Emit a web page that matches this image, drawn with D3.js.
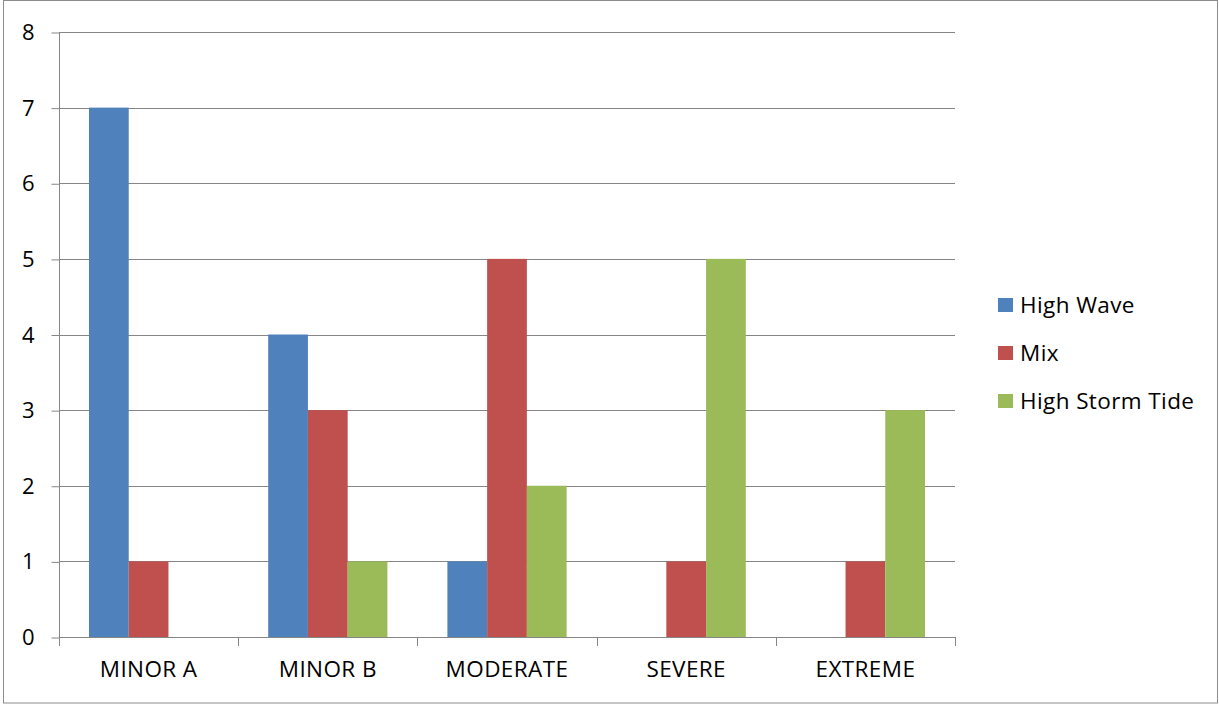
<!DOCTYPE html>
<html><head><meta charset="utf-8">
<script src="https://cdn.jsdelivr.net/npm/d3@7"></script>
<style>body{margin:0;background:#fff;}svg{display:block;font-family:"Open Sans",Arial,sans-serif;}</style>
</head><body>
<svg id="c" width="1219" height="704"></svg>
<script>
const categories = ["MINOR A","MINOR B","MODERATE","SEVERE","EXTREME"];
const seriesNames = ["High Wave","Mix","High Storm Tide"];
const highWave = [7,4,1,0,0];
const mix = [1,3,5,1,1];
const highStormTide = [0,1,2,5,3];
const yTicks = [0,1,2,3,4,5,6,7,8];
const colors = ["#4F81BD","#C0504D","#9BBB59"];
const seriesValues = [highWave, mix, highStormTide];

(function(){
const FONT = "'Open Sans', Arial, sans-serif";
const svg = d3.select("#c");
svg.append("rect").attr("x",3.5).attr("y",0.5).attr("width",1214).attr("height",702.5)
  .attr("fill","#fff").attr("stroke","#8c8c8c").attr("stroke-width",1);

const pL=59, pR=955, pT=32, pB=637;
const x = d3.scaleBand().domain(categories).range([pL,pR]).padding(0);
const y = d3.scaleLinear().domain([0,8]).range([pB,pT]);
const gap = 30;
const xs = d3.scaleBand().domain(seriesNames).range([gap, x.bandwidth()-gap]).padding(0);

// gridlines
svg.append("g").selectAll("line").data(yTicks.filter(d=>d>0)).join("line")
  .attr("x1",pL).attr("x2",pR)
  .attr("y1",d=>Math.round(y(d))+0.5).attr("y2",d=>Math.round(y(d))+0.5)
  .attr("stroke","#868686").attr("stroke-width",1);

// bars
seriesNames.forEach((s,i)=>{
  svg.append("g").selectAll("rect").data(categories.map((c,j)=>({c,v:seriesValues[i][j]}))).join("rect")
    .attr("x",d=>x(d.c)+xs(s))
    .attr("width",xs.bandwidth())
    .attr("y",d=>y(d.v))
    .attr("height",d=>y(0)-y(d.v))
    .attr("fill",colors[i]);
});

// y axis
const yAxis = d3.axisLeft(y).tickValues(yTicks).tickSize(8).tickPadding(17).tickFormat(d3.format("d"));
const gy = svg.append("g").attr("transform",`translate(${pL+0.5},0.5)`).call(yAxis);
gy.select(".domain").attr("stroke","#868686").attr("d",`M0,${pT}V${pB}`);
gy.selectAll(".tick line").attr("stroke","#868686");
gy.selectAll(".tick text").attr("font-size",22).attr("fill","#000").attr("font-family",FONT);

// x axis
const xAxis = d3.axisBottom(x).tickSize(0).tickPadding(24);
const gx = svg.append("g").attr("transform",`translate(0,${pB+0.5})`).call(xAxis);
gx.select(".domain").attr("stroke","#868686").attr("d",`M${pL},0H${pR}`);
gx.selectAll(".tick text").attr("font-size",22.5).attr("letter-spacing",0.4).attr("fill","#000").attr("font-family",FONT);
// category boundary ticks
const bounds = categories.map(c=>x(c)).concat([pR]);
svg.append("g").selectAll("line").data(bounds).join("line")
  .attr("x1",d=>Math.round(d)+0.5).attr("x2",d=>Math.round(d)+0.5)
  .attr("y1",pB).attr("y2",pB+9).attr("stroke","#868686");

// legend
const lg = svg.append("g").attr("transform","translate(998,298)");
seriesNames.forEach((s,i)=>{
  const g = lg.append("g").attr("transform",`translate(0,${i*48})`);
  g.append("rect").attr("width",15).attr("height",14).attr("fill",colors[i]);
  g.append("text").attr("x",22).attr("y",7).attr("dy","0.36em").attr("font-size",22.5).attr("letter-spacing",0.4).attr("fill","#000").attr("font-family",FONT).text(s);
});
})();
</script>
</body></html>
